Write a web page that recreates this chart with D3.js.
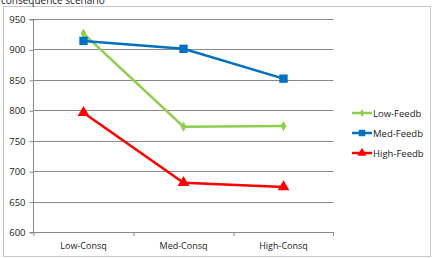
<!DOCTYPE html>
<html>
<head>
<meta charset="utf-8">
<script src="https://cdn.jsdelivr.net/npm/d3@7"></script>
<style>
body { margin: 0; background: #fff; }
text { font-family: "Open Sans", "Liberation Sans", sans-serif; }
</style>
</head>
<body>
<div id="chart"></div>
<script>
"use strict";

// Données du graphique
var categories = ["Low-Consq", "Med-Consq", "High-Consq"];
var seriesNames = ["Low-Feedb", "Med-Feedb", "High-Feedb"];
var lowFeedb = [926, 773, 774];
var medFeedb = [914, 901, 852];
var highFeedb = [796, 681, 674];
var yTicks = [600, 650, 700, 750, 800, 850, 900, 950];

var larg = 436, haut = 258;
var couleurs = ["#8ECF50", "#0070C0", "#FF0000"];
var symboles = [d3.symbolDiamond, d3.symbolSquare, d3.symbolTriangle];
var tailles = [30, 70, 60];

var svg = d3.select("#chart").append("svg")
	.attr("width", larg)
	.attr("height", haut);

// Cadre du graphique
svg.append("rect")
	.attr("x", 3.5).attr("y", 6.5)
	.attr("width", 427).attr("height", 250)
	.attr("fill", "none")
	.attr("stroke", "#c8c8c8");

// Titre coupé en haut
svg.append("text")
	.attr("x", 1).attr("y", 4)
	.attr("font-size", 10)
	.attr("fill", "#222")
	.text("consequence scenario");

var x = d3.scaleBand().domain(categories).range([33.5, 333.5]);
var y = d3.scaleLinear().domain([600, 950]).range([232, 19]);

// Lignes de grille
svg.append("g").selectAll("line")
	.data(yTicks.slice(1))
	.enter().append("line")
	.attr("x1", 33.5).attr("x2", 333.5)
	.attr("y1", function(d){ return Math.round(y(d)) + 0.5; })
	.attr("y2", function(d){ return Math.round(y(d)) + 0.5; })
	.attr("stroke", "#8a8a8a");

// Axe Y
var yAxis = svg.append("g")
	.attr("transform", "translate(33.5,0.5)")
	.call(d3.axisLeft(y).tickValues(yTicks).tickSize(4).tickPadding(4));
yAxis.select(".domain").attr("stroke", "#8a8a8a").attr("d", "M-4," + y(600) + "H0V" + y(950) + "H-4");
yAxis.selectAll(".tick line").attr("stroke", "#8a8a8a");
yAxis.selectAll("text").attr("font-size", 9.5).attr("fill", "#222")
	.style("font-family", "'Open Sans', sans-serif");

// Axe X
var xAxis = svg.append("g")
	.attr("transform", "translate(0," + (Math.round(y(600)) + 0.5) + ")")
	.call(d3.axisBottom(x).tickSize(0).tickPadding(10));
xAxis.select(".domain").attr("stroke", "#8a8a8a").attr("d", "M33.5,0H333.5");
xAxis.selectAll("text").attr("font-size", 9).attr("fill", "#222")
	.style("font-family", "'Open Sans', sans-serif");
// petits traits entre catégories
svg.append("g").selectAll("line")
	.data(categories)
	.enter().append("line")
	.attr("x1", function(d){ return x(d) + 0.5; })
	.attr("x2", function(d){ return x(d) + 0.5; })
	.attr("y1", y(600)).attr("y2", y(600) + 4)
	.attr("stroke", "#8a8a8a");
svg.append("line")
	.attr("x1", 333.5).attr("x2", 333.5)
	.attr("y1", y(600)).attr("y2", y(600) + 4)
	.attr("stroke", "#8a8a8a");

var series = [lowFeedb, medFeedb, highFeedb];
var ligne = d3.line()
	.x(function(d, i){ return x(categories[i]) + x.bandwidth() / 2; })
	.y(function(d){ return y(d); });

series.forEach(function(vals, s){
	svg.append("path")
		.datum(vals)
		.attr("d", ligne)
		.attr("fill", "none")
		.attr("stroke", couleurs[s])
		.attr("stroke-width", 2.5);
	svg.append("g").selectAll("path")
		.data(vals)
		.enter().append("path")
		.attr("transform", function(d, i){
			return "translate(" + (x(categories[i]) + x.bandwidth() / 2) + "," + y(d) + ")";
		})
		.attr("d", d3.symbol().type(symboles[s]).size(tailles[s]))
		.attr("fill", couleurs[s]);
});

// Légende
var legende = svg.append("g").selectAll("g")
	.data(seriesNames)
	.enter().append("g")
	.attr("transform", function(d, i){ return "translate(352," + (113 + i * 20) + ")"; });
legende.append("line")
	.attr("x1", 0).attr("x2", 20)
	.attr("stroke", function(d, i){ return couleurs[i]; })
	.attr("stroke-width", 2.5);
legende.append("path")
	.attr("transform", "translate(10,0)")
	.attr("d", function(d, i){ return d3.symbol().type(symboles[i]).size(tailles[i] * 0.6)(); })
	.attr("fill", function(d, i){ return couleurs[i]; });
legende.append("text")
	.attr("x", 21).attr("y", 3.5)
	.attr("font-size", 9.5)
	.attr("fill", "#222")
	.text(function(d){ return d; });
</script>
</body>
</html>
